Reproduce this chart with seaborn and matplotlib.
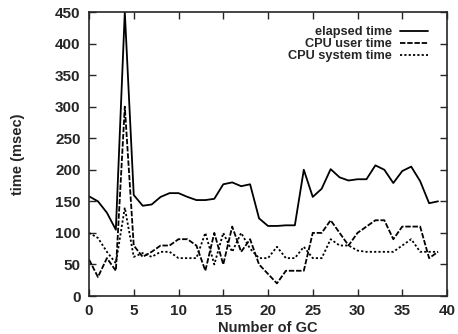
import numpy as np
import pandas as pd
import matplotlib
matplotlib.use("Agg")
import matplotlib.pyplot as plt
import seaborn as sns

gc_number = list(range(40))
elapsed = [158, 150, 132, 105, 450, 160, 143, 145, 157, 163,
           163, 157, 152, 152, 154, 177, 180, 174, 177, 123,
           111, 111, 112, 112, 200, 157, 170, 201, 188, 183,
           185, 185, 207, 200, 179, 198, 205, 182, 147, 150]
cpu_user = [58, 30, 60, 40, 300, 80, 62, 70, 80, 80,
            90, 90, 80, 40, 100, 50, 110, 70, 90, 50,
            35, 20, 40, 40, 40, 100, 100, 120, 100, 80,
            100, 110, 120, 120, 90, 110, 110, 110, 60, 70]
cpu_system = [100, 92, 70, 52, 140, 62, 68, 62, 70, 70,
              60, 60, 60, 100, 50, 100, 70, 100, 75, 60,
              60, 78, 60, 60, 78, 60, 60, 90, 80, 80,
              72, 70, 70, 70, 70, 80, 90, 70, 70, 70]
series_names = ["elapsed time", "CPU user time", "CPU system time"]
x_ticks = [0, 5, 10, 15, 20, 25, 30, 35, 40]
y_ticks = [0, 50, 100, 150, 200, 250, 300, 350, 400, 450]

df = pd.DataFrame({"gc": gc_number, series_names[0]: elapsed,
                   series_names[1]: cpu_user, series_names[2]: cpu_system})

sns.set_style("ticks")
plt.rcParams["font.family"] = ["Liberation Sans", "DejaVu Sans"]

fig = plt.figure(figsize=(4.58, 3.34), dpi=100)
ax = fig.add_axes([89 / 458, 1 - 296 / 334, (447 - 89) / 458, (296 - 12) / 334])

styles = [dict(linestyle="-"), dict(dashes=(3, 1)), dict(dashes=(1.2, 1.2))]
for name, st in zip(series_names, styles):
    sns.lineplot(data=df, x="gc", y=name, ax=ax, color="black", linewidth=1.3,
                 label=name, **st)

ax.set_xlim(0, 40)
ax.set_ylim(0, 450)
ax.set_xticks(x_ticks)
ax.set_yticks(y_ticks)
ax.tick_params(direction="in", length=5, width=1, top=True, right=True,
               labelsize=11)
ax.tick_params(axis="x", pad=6)
ax.tick_params(axis="y", pad=6)
for lab in ax.get_xticklabels() + ax.get_yticklabels():
    lab.set_fontweight("bold")
for sp in ax.spines.values():
    sp.set_linewidth(1.2)
    sp.set_visible(True)
ax.set_xlabel("Number of GC", fontsize=10.5, fontweight="bold", labelpad=2)
ax.set_ylabel("time (msec)", fontsize=10.5, fontweight="bold", labelpad=22)

leg = ax.legend(loc="upper right", frameon=False, markerfirst=False,
                handlelength=2.2, fontsize=9.2, labelspacing=0.0,
                bbox_to_anchor=(0.979, 0.99), handletextpad=0.6)
for t in leg.get_texts():
    t.set_fontweight("bold")
    t.set_ha("right")

fig.savefig("out.png", dpi=100)
